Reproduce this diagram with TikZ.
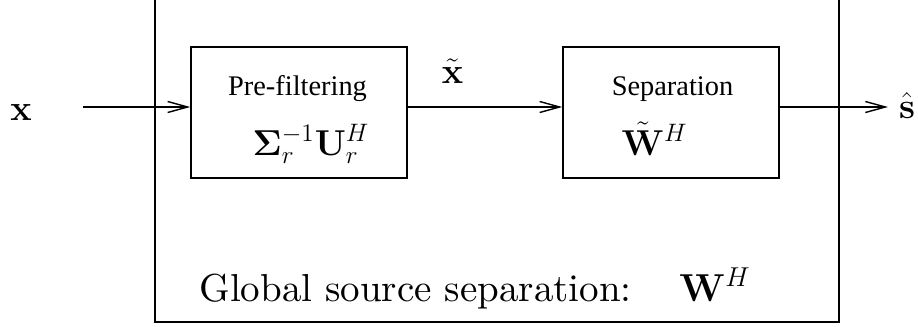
\documentclass[tikz,border=0pt]{standalone}
\usepackage{fix-cm}
\usepackage{amsmath}
\usepackage[no-math]{fontspec}
\newfontfamily\timesf{Liberation Serif}
\newfontfamily\lmten{lmroman10-regular.otf}
\usetikzlibrary{arrows.meta}
\tikzset{
  blk/.style={draw, line width=0.7pt, minimum width=108pt, minimum height=65.5pt, inner sep=0pt},
  arr/.style={draw, line width=0.7pt, -{Straight Barb[length=10pt,width=5.5pt,line width=0.7pt]}},
  tlabel/.style={font=\timesf\fontsize{14.2}{16}\selectfont, anchor=base, inner sep=0pt},
  mlabel/.style={font=\fontsize{18}{20}\selectfont, anchor=base, inner sep=0pt},
  glabel/.style={font=\lmten\fontsize{19.5}{22}\selectfont, anchor=base, inner sep=0pt},
}
\begin{document}
\begin{tikzpicture}[x=0.5pt,y=-0.5pt]
\useasboundingbox (0,0) rectangle (918,327);
% outer container (top edge lies outside the picture)
\draw[line width=0.7pt] (155,-2) -- (155,322) -- (839,322) -- (839,-2);
\node[blk] (pre) at (299,112.5) {};
\node[blk] (sep) at (671,112.5) {};
\node[tlabel] (pretxt) at (297.5,95) {Pre-filtering};
\node[tlabel] (septxt) at (672.5,95) {Separation};
\node[mlabel] (premath) at (311,155) {$\mathbf{\Sigma}_r^{-1}\mathbf{U}_r^H$};
\node[mlabel] (sepmath) at (654.5,155) {$\tilde{\mathbf{W}}^H$};
\node[mlabel] (xin) at (21,120) {$\mathbf{x}$};
\node[mlabel] (xt) at (452.5,83) {$\tilde{\mathbf{x}}$};
\node[mlabel] (shat) at (907,118) {$\hat{\mathbf{s}}$};
\node[glabel] (glob) at (415.5,301) {Global source separation:};
\node[glabel] (globw) at (715,301) {$\mathbf{W}^H$};
\coordinate (xs) at (83,107);
\coordinate (sout) at (888,107);
\draw[arr] (xs) -- (xs -| pre.west);
\draw[arr] (xs -| pre.east) -- (xs -| sep.west);
\draw[arr] (xs -| sep.east) -- (sout);
\end{tikzpicture}
\end{document}
